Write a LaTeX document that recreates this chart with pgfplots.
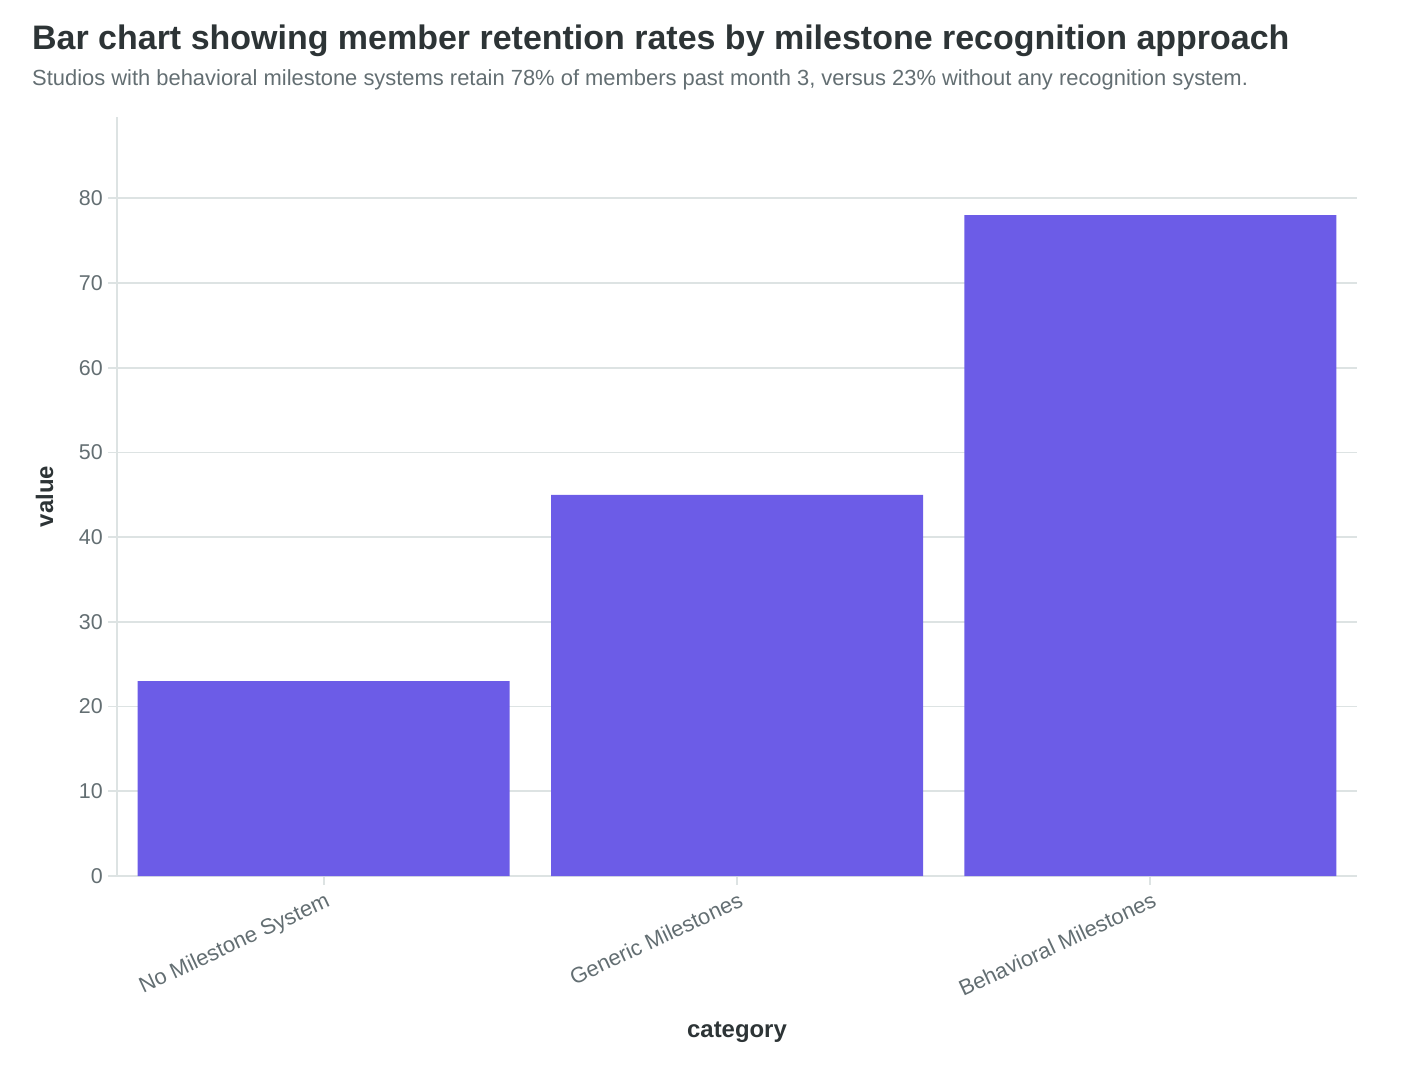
\documentclass[border=0pt]{standalone}
\usepackage{pgfplots}
\pgfplotsset{compat=1.18}
\usepackage{fontspec}
\setmainfont{Liberation Sans}
\definecolor{barc}{HTML}{6C5CE7}
\definecolor{gridc}{HTML}{DDE3E3}
\definecolor{txt}{HTML}{636E72}
\definecolor{ttl}{HTML}{2D3436}
\begin{document}
\begin{tikzpicture}[x=1bp,y=1bp]
\useasboundingbox (0,0) rectangle (1406,1074);
\node[anchor=base west,inner sep=0,text=ttl,font=\fontsize{34.1}{38}\selectfont\bfseries] at (32,1024) {Bar chart showing member retention rates by milestone recognition approach};
\node[anchor=base west,inner sep=0,text=txt,font=\fontsize{22}{26}\selectfont] at (32,988) {Studios with behavioral milestone systems retain 78\% of members past month 3, versus 23\% without any recognition system.};
\begin{axis}[
  at={(117bp,198bp)}, anchor=south west,
  scale only axis, width=1240bp, height=759bp,
  xmin=-0.5, xmax=2.5, ymin=0, ymax=89.6,
  ybar, bar width=0.9, bar shift=0pt,
  xtick={0,1,2},
  xticklabels={No Milestone System,Generic Milestones,Behavioral Milestones},
  ytick={0,10,...,80},
  axis line style={gridc, line width=1.8bp},
  axis x line*=bottom, axis y line*=left,
  ymajorgrids, grid style={gridc, line width=1.8bp},
  major tick style={gridc, line width=1.8bp},
  tick align=outside, major tick length=9bp,
  x tick label style={rotate=25, anchor=north east, font=\fontsize{22}{26}\selectfont, text=txt, inner sep=2bp, yshift=-4bp},
  y tick label style={font=\fontsize{21.5}{26}\selectfont, text=txt, inner sep=2bp, xshift=-3bp},
  /pgf/number format/assume math mode=true,
  xlabel={\textbf{category}}, ylabel={\textbf{value}},
  xlabel style={font=\fontsize{24}{28}\selectfont, text=ttl, at={(axis description cs:0.5,0)}, anchor=center, yshift=-156bp},
  ylabel style={font=\fontsize{24}{28}\selectfont, text=ttl, at={(axis description cs:-0.0585,0.5)}, anchor=center},
  clip=false,
]
\addplot[fill=barc, draw=none] coordinates {(0,23) (1,45) (2,78)};
\end{axis}
\end{tikzpicture}
\end{document}
